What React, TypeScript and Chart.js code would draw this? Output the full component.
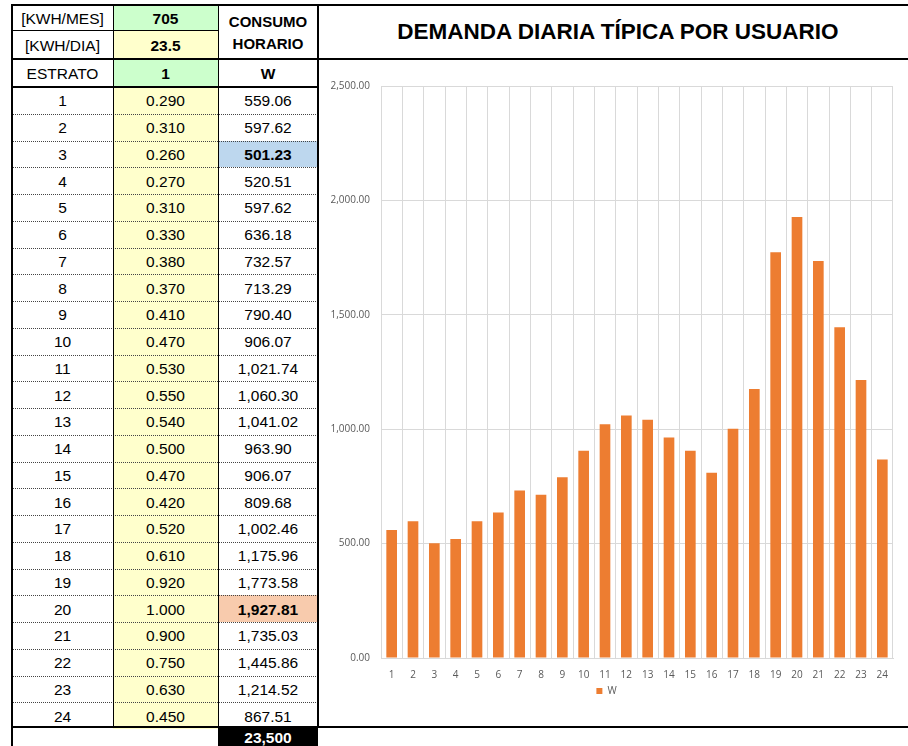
import React, { useEffect, useRef } from "react";
import { Chart, registerables } from "chart.js";

Chart.register(...registerables);

const hours = ["1","2","3","4","5","6","7","8","9","10","11","12","13","14","15","16","17","18","19","20","21","22","23","24"];
const factors = ["0.290","0.310","0.260","0.270","0.310","0.330","0.380","0.370","0.410","0.470","0.530","0.550","0.540","0.500","0.470","0.420","0.520","0.610","0.920","1.000","0.900","0.750","0.630","0.450"];
const watts = [559.06,597.62,501.23,520.51,597.62,636.18,732.57,713.29,790.40,906.07,1021.74,1060.30,1041.02,963.90,906.07,809.68,1002.46,1175.96,1773.58,1927.81,1735.03,1445.86,1214.52,867.51];
const kwhMes = "705";
const kwhDia = "23.5";
const estrato = "1";
const total = "23,500";
const seriesName = "W";
const title = "DEMANDA DIARIA TÍPICA POR USUARIO";
const yTicks = [0, 500, 1000, 1500, 2000, 2500];

const fmt = (v: number) => v.toLocaleString("en-US", { minimumFractionDigits: 2, maximumFractionDigits: 2 });

const FONT = "'Liberation Sans', Arial, sans-serif";
const GREEN = "#CCFFCC";
const YELLOW = "#FFFFCC";
const BLUE = "#BDD7EE";
const ORANGE_CELL = "#F8CBAD";

const C0 = 12, C1 = 113, C2 = 218, C3 = 318;
const DATA_TOP = 87;
const ROW_H = 26.75;
const TXT = 15.5;

function Cell(props: { x: number; y: number; w: number; h: number; bg?: string; bold?: boolean; size?: number; color?: string; children?: React.ReactNode; lh?: number }) {
  const { x, y, w, h, bg, bold, size, color, children, lh } = props;
  return (
    <div
      style={{
        position: "absolute",
        left: x,
        top: y,
        width: w,
        height: h,
        background: bg || "transparent",
        display: "flex",
        alignItems: "center",
        justifyContent: "center",
        textAlign: "center",
        fontFamily: FONT,
        fontSize: size || TXT,
        fontWeight: bold ? "bold" : "normal",
        color: color || "#000",
        lineHeight: lh ? lh + "px" : "normal",
        paddingTop: 2,
        boxSizing: "border-box",
        whiteSpace: "pre",
      }}
    >
      {children}
    </div>
  );
}

function Line(props: { x: number; y: number; w: number; h: number; color?: string; dotted?: boolean }) {
  const { x, y, w, h, color, dotted } = props;
  if (dotted) {
    return <div style={{ position: "absolute", left: x, top: y, width: w, height: 0, borderTop: "1px dotted #444" }} />;
  }
  return <div style={{ position: "absolute", left: x, top: y, width: w, height: h, background: color || "#000" }} />;
}

export default function App() {
  const canvasRef = useRef<HTMLCanvasElement | null>(null);

  useEffect(() => {
    const ctx = canvasRef.current;
    if (!ctx) return;
    const chart = new Chart(ctx, {
      type: "bar",
      data: {
        labels: hours,
        datasets: [
          {
            label: seriesName,
            data: watts,
            backgroundColor: "#ED7D31",
            borderWidth: 0,
            barPercentage: 0.5,
            categoryPercentage: 1,
          },
        ],
      },
      options: {
        animation: false,
        responsive: false,
        devicePixelRatio: 1,
        layout: { padding: { top: 26, right: 15, bottom: 20, left: 0 } },
        plugins: {
          legend: {
            display: true,
            position: "bottom",
            labels: {
              boxWidth: 6,
              boxHeight: 6,
              padding: 4,
              color: "#595959",
              font: { family: "'Open Sans', sans-serif", size: 10 },
            },
          },
          tooltip: { enabled: false },
        },
        scales: {
          x: {
            grid: { display: true, color: "#d9d9d9", offset: true, drawTicks: false },
            border: { display: true, color: "#d9d9d9" },
            ticks: {
              color: "#595959",
              padding: 11,
              maxRotation: 0,
              autoSkip: false,
              font: { family: "'Open Sans', sans-serif", size: 10 },
            },
            afterFit: (scale: any) => {
              scale.height = 24;
            },
          },
          y: {
            min: 0,
            max: 2500,
            grid: { color: "#d9d9d9", drawTicks: false },
            border: { display: false },
            afterBuildTicks: (scale: any) => {
              scale.ticks = yTicks.map((v) => ({ value: v }));
            },
            ticks: {
              color: "#595959",
              padding: 11,
              font: { family: "'Open Sans', sans-serif", size: 10 },
              callback: (v: any) => fmt(Number(v)),
            },
            afterFit: (scale: any) => {
              scale.width = 61;
            },
          },
        },
      },
    } as any);
    return () => chart.destroy();
  }, []);

  const rows = hours.map((h, i) => {
    const y = DATA_TOP + i * ROW_H;
    const w = watts[i];
    const isMin = i === 2;
    const isMax = i === 19;
    return (
      <React.Fragment key={h}>
        <Cell x={C0} y={y} w={C1 - C0} h={ROW_H}>{h}</Cell>
        <Cell x={C1} y={y} w={C2 - C1} h={ROW_H} bg={YELLOW}>{factors[i]}</Cell>
        <Cell x={C2} y={y} w={C3 - C2} h={ROW_H} bg={isMin ? BLUE : isMax ? ORANGE_CELL : undefined} bold={isMin || isMax}>
          {fmt(w)}
        </Cell>
        {i > 0 ? <Line x={13} y={Math.round(y)} w={C3 - 13} h={1} dotted /> : null}
      </React.Fragment>
    );
  });

  return (
    <div style={{ position: "absolute", left: 0, top: 0, width: 908, height: 746, background: "#fff", overflow: "hidden" }}>
      <Cell x={C0} y={5} w={C1 - C0} h={25}>[KWH/MES]</Cell>
      <Cell x={C1} y={5} w={C2 - C1} h={25} bg={GREEN} bold>{kwhMes}</Cell>
      <Cell x={C0} y={30} w={C1 - C0} h={29}>[KWH/DIA]</Cell>
      <Cell x={C1} y={30} w={C2 - C1} h={29} bg={YELLOW} bold>{kwhDia}</Cell>
      <Cell x={C2} y={5} w={C3 - C2} h={54} bold size={15} lh={22}>{"CONSUMO\nHORARIO"}</Cell>
      <Cell x={C0} y={59} w={C1 - C0} h={28}>ESTRATO</Cell>
      <Cell x={C1} y={59} w={C2 - C1} h={28} bg={GREEN} bold>{estrato}</Cell>
      <Cell x={C2} y={59} w={C3 - C2} h={28} bold>W</Cell>
      {rows}
      <Cell x={C2} y={728} w={C3 - C2} h={18} bg="#000" bold color="#fff">{total}</Cell>

      <div
        style={{
          position: "absolute",
          left: 320,
          top: 5,
          width: 596,
          height: 54,
          display: "flex",
          alignItems: "center",
          justifyContent: "center",
          fontFamily: FONT,
          fontWeight: "bold",
          fontSize: 22.5,
          color: "#000",
        }}
      >
        {title}
      </div>

      <Line x={11} y={4} w={897} h={2} />
      <Line x={11} y={4} w={2} h={742} />
      <Line x={C0} y={30} w={C2 - C0} h={1} />
      <Line x={11} y={58} w={897} h={2} />
      <Line x={11} y={86} w={308} h={2} />
      <Line x={11} y={726} w={897} h={2} />
      <Line x={C1} y={5} w={1} h={722} />
      <Line x={C2} y={5} w={1} h={722} />
      <Line x={317} y={5} w={2} h={722} />

      <canvas
        ref={canvasRef}
        width={588}
        height={666}
        style={{ position: "absolute", left: 320, top: 60, width: 588, height: 666 }}
      />
    </div>
  );
}
